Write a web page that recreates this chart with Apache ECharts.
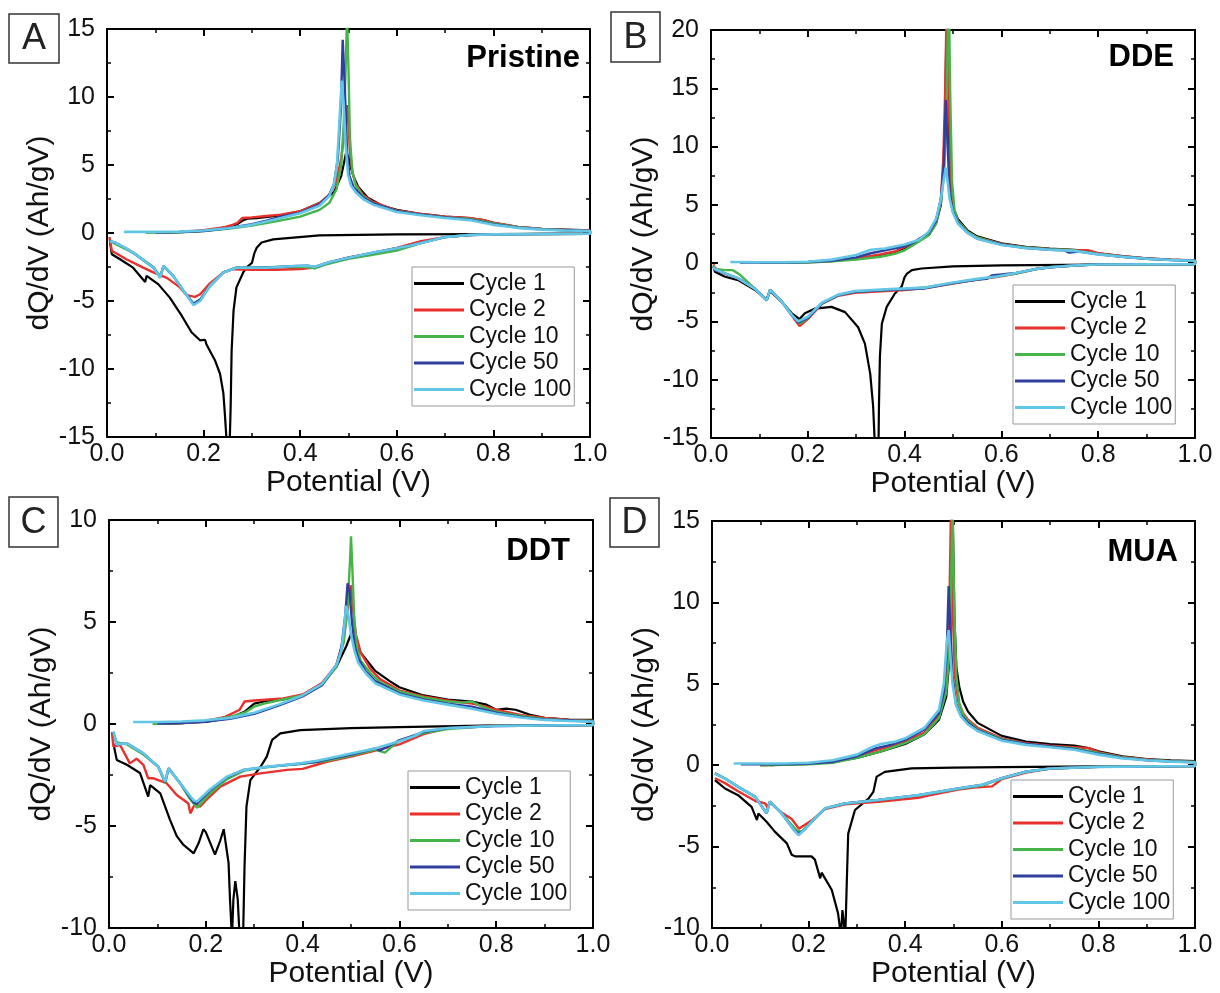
<!DOCTYPE html>
<html>
<head>
<meta charset="utf-8">
<script src="https://cdn.jsdelivr.net/npm/echarts@6/dist/echarts.min.js"></script>
<style>
html,body{margin:0;padding:0;background:#fff;}
#chart{width:1220px;height:993px;}
</style>
</head>
<body>
<div id="chart"></div>
<script>
// ---------------- DATA ----------------
const cycleNames = ['Cycle 1', 'Cycle 2', 'Cycle 10', 'Cycle 50', 'Cycle 100'];
const panelNames = ['Pristine', 'DDE', 'DDT', 'MUA'];
const panelLetters = ['A', 'B', 'C', 'D'];
const yMin = [-15, -15, -10, -10];
const yMax = [15, 20, 10, 15];
const xTickLabels = ['0.0', '0.2', '0.4', '0.6', '0.8', '1.0'];

// Panel A: Pristine  [potential V, dQ/dV]
const pristineCycle1 = [[0.12,0.02],[0.18,0.1],[0.22,0.25],[0.25,0.45],[0.27,0.65],[0.28,0.9],[0.29,1.05],[0.31,1.1],[0.35,1.25],[0.4,1.6],[0.44,2.2],[0.47,3.0],[0.485,4.2],[0.495,5.9],[0.5,5.6],[0.505,4.8],[0.51,4.2],[0.52,3.4],[0.54,2.6],[0.57,2.0],[0.6,1.7],[0.65,1.4],[0.7,1.2],[0.75,1.1],[0.78,0.95],[0.8,0.75],[0.85,0.45],[0.9,0.3],[0.95,0.25],[1.0,0.2],
  [1.0,-0.05],[0.8,-0.08],[0.6,-0.1],[0.44,-0.17],[0.344,-0.47],[0.32,-0.7],[0.31,-1.08],[0.305,-1.5],[0.3,-2.2],[0.29,-2.5],[0.282,-2.9],[0.268,-4.0],[0.262,-5.7],[0.258,-8.7],[0.256,-12.8],[0.254,-15.5],[0.248,-15.5],[0.244,-13.3],[0.241,-11.8],[0.234,-10.35],[0.224,-9.4],[0.206,-8.2],[0.203,-7.85],[0.193,-7.9],[0.175,-7.3],[0.155,-6.1],[0.13,-4.75],[0.106,-3.76],[0.082,-3.15],[0.079,-3.6],[0.054,-2.55],[0.027,-1.93],[0.01,-1.56],[0.006,-0.6]];
const pristineCycle2 = [[0.1,0.03],[0.15,0.08],[0.2,0.2],[0.24,0.4],[0.26,0.6],[0.27,0.75],[0.28,1.1],[0.3,1.15],[0.33,1.25],[0.36,1.35],[0.4,1.6],[0.44,2.2],[0.46,2.8],[0.475,3.8],[0.485,5.5],[0.492,7.5],[0.497,9.4],[0.5,8],[0.503,6],[0.508,4.5],[0.515,3.6],[0.53,2.8],[0.55,2.3],[0.6,1.65],[0.65,1.4],[0.7,1.2],[0.75,1.1],[0.78,0.95],[0.8,0.75],[0.85,0.45],[0.9,0.3],[0.95,0.22],[1.0,0.18],
  [1.0,-0.05],[0.85,-0.08],[0.75,-0.15],[0.7,-0.3],[0.65,-0.6],[0.6,-1.1],[0.55,-1.5],[0.5,-1.8],[0.45,-2.3],[0.43,-2.55],[0.4,-2.65],[0.35,-2.7],[0.3,-2.7],[0.261,-2.66],[0.241,-2.9],[0.213,-3.7],[0.193,-4.5],[0.182,-4.7],[0.165,-4.57],[0.151,-4.0],[0.124,-3.3],[0.096,-2.9],[0.075,-2.55],[0.04,-1.93],[0.01,-1.3],[0.005,-0.3]];
const pristineCycle10 = [[0.08,0.02],[0.15,0.06],[0.2,0.15],[0.25,0.3],[0.3,0.55],[0.35,0.85],[0.4,1.2],[0.44,1.7],[0.46,2.2],[0.475,3.2],[0.485,5],[0.49,8],[0.494,12],[0.497,16],[0.5,12],[0.503,7],[0.508,4.5],[0.515,3.5],[0.53,2.7],[0.55,2.2],[0.6,1.6],[0.65,1.35],[0.7,1.15],[0.75,1.05],[0.8,0.7],[0.85,0.42],[0.9,0.28],[0.95,0.2],[1.0,0.15],
  [1.0,-0.05],[0.8,-0.1],[0.75,-0.15],[0.7,-0.3],[0.65,-0.75],[0.6,-1.3],[0.55,-1.6],[0.5,-1.9],[0.45,-2.35],[0.43,-2.6],[0.41,-2.5],[0.35,-2.5],[0.3,-2.55],[0.268,-2.55],[0.241,-2.9],[0.213,-3.9],[0.193,-4.9],[0.179,-5.2],[0.161,-4.4],[0.137,-3.15],[0.117,-2.45],[0.11,-3.2],[0.096,-2.5],[0.06,-1.6],[0.04,-1.2],[0.017,-0.8],[0.006,-0.6]];
const pristineCycle50 = [[0.1,0.03],[0.15,0.07],[0.2,0.15],[0.25,0.35],[0.3,0.65],[0.33,0.9],[0.36,1.2],[0.4,1.5],[0.44,2.1],[0.46,2.8],[0.47,3.6],[0.478,5.5],[0.484,9],[0.488,14.2],[0.492,11],[0.497,6],[0.502,4.2],[0.51,3.4],[0.53,2.6],[0.55,2.2],[0.6,1.6],[0.65,1.35],[0.7,1.15],[0.75,1.0],[0.8,0.65],[0.85,0.4],[0.9,0.27],[0.95,0.2],[1.0,0.15],
  [1.0,-0.05],[0.8,-0.1],[0.75,-0.15],[0.7,-0.3],[0.665,-0.6],[0.624,-0.95],[0.55,-1.45],[0.503,-1.8],[0.46,-2.15],[0.43,-2.5],[0.415,-2.4],[0.38,-2.45],[0.33,-2.55],[0.268,-2.55],[0.241,-2.9],[0.213,-3.9],[0.193,-4.9],[0.179,-5.2],[0.161,-4.38],[0.137,-3.15],[0.117,-2.42],[0.11,-3.28],[0.096,-2.55],[0.054,-1.44],[0.037,-1.08],[0.017,-0.7],[0.006,-0.6]];
const pristineCycle100 = [[0.035,0.08],[0.1,0.08],[0.15,0.1],[0.2,0.18],[0.25,0.35],[0.3,0.6],[0.33,0.85],[0.36,1.1],[0.4,1.45],[0.44,2.0],[0.46,2.7],[0.47,3.6],[0.476,5],[0.481,8],[0.486,11.2],[0.49,9.5],[0.494,6.5],[0.499,4.3],[0.505,3.5],[0.515,3.0],[0.53,2.5],[0.55,2.1],[0.6,1.55],[0.65,1.3],[0.7,1.1],[0.75,0.95],[0.8,0.6],[0.85,0.38],[0.9,0.25],[0.95,0.18],[1.0,0.15],
  [1.0,-0.05],[0.8,-0.1],[0.75,-0.15],[0.7,-0.3],[0.665,-0.6],[0.624,-0.95],[0.55,-1.45],[0.503,-1.8],[0.46,-2.15],[0.43,-2.5],[0.415,-2.4],[0.38,-2.45],[0.33,-2.55],[0.268,-2.55],[0.241,-2.9],[0.213,-3.9],[0.193,-5.0],[0.179,-5.3],[0.161,-4.38],[0.137,-3.15],[0.117,-2.42],[0.11,-3.28],[0.096,-2.55],[0.054,-1.44],[0.037,-1.08],[0.017,-0.7],[0.006,-0.6]];

// Panel B: DDE
const ddeCycle1 = [[0.12,0.02],[0.2,0.1],[0.25,0.2],[0.3,0.4],[0.35,0.7],[0.38,0.95],[0.4,1.3],[0.42,1.7],[0.45,2.4],[0.465,3.4],[0.475,5],[0.48,8],[0.484,13],[0.487,22],[0.49,14],[0.494,7],[0.5,4.8],[0.51,3.8],[0.53,2.8],[0.55,2.3],[0.6,1.7],[0.65,1.4],[0.7,1.25],[0.75,1.15],[0.78,1.05],[0.8,0.85],[0.85,0.6],[0.9,0.42],[0.95,0.3],[1.0,0.25],
  [1.0,-0.1],[0.8,-0.12],[0.6,-0.2],[0.5,-0.28],[0.435,-0.46],[0.415,-0.6],[0.405,-0.9],[0.4,-1.2],[0.394,-2.0],[0.38,-2.6],[0.363,-3.75],[0.353,-5.2],[0.349,-8],[0.347,-12.3],[0.346,-16],[0.339,-16],[0.335,-12.3],[0.329,-9.5],[0.318,-6.9],[0.304,-5.5],[0.277,-4.2],[0.249,-3.75],[0.215,-3.9],[0.194,-4.3],[0.183,-4.8],[0.167,-4.3],[0.146,-3.3],[0.122,-2.4],[0.115,-3.1],[0.091,-2.3],[0.056,-1.46],[0.029,-1.17],[0.008,-0.74],[0.005,-0.3]];
const ddeCycle2 = [[0.1,0.02],[0.2,0.08],[0.25,0.18],[0.3,0.4],[0.35,0.75],[0.38,1.0],[0.4,1.4],[0.42,1.8],[0.45,2.6],[0.465,3.6],[0.475,5.5],[0.48,9],[0.484,15],[0.488,25],[0.491,15],[0.495,7],[0.5,4.6],[0.51,3.6],[0.53,2.7],[0.55,2.2],[0.6,1.65],[0.65,1.35],[0.7,1.2],[0.75,1.1],[0.78,1.1],[0.8,0.85],[0.85,0.6],[0.9,0.4],[0.95,0.3],[1.0,0.22],
  [1.0,-0.08],[0.8,-0.1],[0.75,-0.2],[0.7,-0.35],[0.672,-0.5],[0.63,-0.9],[0.59,-1.2],[0.55,-1.4],[0.494,-1.8],[0.45,-2.1],[0.4,-2.3],[0.36,-2.4],[0.297,-2.55],[0.263,-2.8],[0.229,-3.5],[0.2,-4.8],[0.183,-5.4],[0.167,-4.5],[0.146,-3.3],[0.122,-2.3],[0.115,-3.2],[0.091,-2.2],[0.056,-1.3],[0.029,-0.9],[0.008,-0.4],[0.005,-0.1]];
const ddeCycle10 = [[0.1,0.02],[0.2,0.06],[0.25,0.15],[0.3,0.3],[0.35,0.55],[0.38,0.8],[0.4,1.1],[0.42,1.6],[0.45,2.4],[0.465,3.4],[0.475,5.2],[0.482,8],[0.487,14],[0.491,25],[0.494,15],[0.498,7],[0.503,4.6],[0.51,3.6],[0.53,2.7],[0.55,2.2],[0.6,1.6],[0.65,1.35],[0.7,1.2],[0.75,1.1],[0.8,0.8],[0.85,0.55],[0.9,0.38],[0.95,0.28],[1.0,0.2],
  [1.0,-0.08],[0.8,-0.1],[0.75,-0.2],[0.7,-0.35],[0.672,-0.5],[0.63,-0.9],[0.59,-1.15],[0.55,-1.4],[0.494,-1.75],[0.45,-2.05],[0.4,-2.25],[0.36,-2.3],[0.297,-2.45],[0.263,-2.75],[0.229,-3.45],[0.2,-4.7],[0.183,-5.2],[0.167,-4.4],[0.146,-3.3],[0.122,-2.3],[0.115,-3.2],[0.091,-2.2],[0.06,-1.0],[0.045,-0.6],[0.03,-0.6],[0.008,-0.5],[0.005,-0.2]];
const ddeCycle50 = [[0.06,0.05],[0.15,0.06],[0.2,0.1],[0.25,0.2],[0.3,0.5],[0.33,0.85],[0.36,1.1],[0.4,1.45],[0.42,1.8],[0.45,2.6],[0.465,3.6],[0.475,5.5],[0.481,8.5],[0.485,14],[0.489,10],[0.493,6],[0.5,4.4],[0.51,3.5],[0.53,2.6],[0.55,2.1],[0.6,1.6],[0.65,1.3],[0.7,1.15],[0.73,1.1],[0.74,0.9],[0.76,1.0],[0.8,0.75],[0.85,0.55],[0.9,0.38],[0.95,0.27],[1.0,0.2],
  [1.0,-0.08],[0.8,-0.1],[0.75,-0.2],[0.7,-0.35],[0.672,-0.5],[0.63,-0.85],[0.58,-1.05],[0.57,-1.35],[0.55,-1.4],[0.494,-1.75],[0.442,-2.17],[0.36,-2.3],[0.297,-2.46],[0.263,-2.74],[0.229,-3.46],[0.2,-4.7],[0.18,-5.1],[0.167,-4.46],[0.146,-3.3],[0.122,-2.3],[0.115,-3.2],[0.091,-2.2],[0.056,-1.3],[0.03,-0.9],[0.008,-0.6],[0.005,-0.3]];
const ddeCycle100 = [[0.04,0.1],[0.1,0.08],[0.15,0.08],[0.2,0.12],[0.25,0.3],[0.3,0.7],[0.33,1.15],[0.36,1.25],[0.4,1.6],[0.43,2.0],[0.45,2.7],[0.465,3.8],[0.475,5.5],[0.481,7.2],[0.485,8.2],[0.489,7],[0.493,5.5],[0.5,4.3],[0.51,3.4],[0.53,2.6],[0.55,2.1],[0.6,1.55],[0.65,1.3],[0.7,1.15],[0.75,1.05],[0.8,0.75],[0.85,0.55],[0.9,0.38],[0.95,0.27],[1.0,0.2],
  [1.0,-0.08],[0.8,-0.12],[0.75,-0.2],[0.7,-0.35],[0.672,-0.5],[0.63,-0.85],[0.59,-1.15],[0.55,-1.35],[0.494,-1.7],[0.442,-2.1],[0.36,-2.25],[0.297,-2.4],[0.263,-2.7],[0.229,-3.4],[0.2,-4.6],[0.18,-5.0],[0.167,-4.46],[0.146,-3.3],[0.122,-2.3],[0.115,-3.2],[0.091,-2.2],[0.056,-1.3],[0.03,-0.9],[0.008,-0.5],[0.005,-0.3]];

// Panel C: DDT
const ddtCycle1 = [[0.12,0.0],[0.2,0.1],[0.25,0.3],[0.28,0.6],[0.3,1.0],[0.33,1.15],[0.36,1.2],[0.4,1.4],[0.44,2.0],[0.47,2.8],[0.49,3.8],[0.5,4.4],[0.505,4.0],[0.51,3.8],[0.52,3.5],[0.53,3.2],[0.55,2.6],[0.58,2.1],[0.6,1.8],[0.65,1.4],[0.7,1.2],[0.75,1.1],[0.78,0.95],[0.8,0.7],[0.82,0.75],[0.84,0.7],[0.87,0.45],[0.9,0.3],[0.95,0.22],[1.0,0.2],
  [1.0,-0.05],[0.8,-0.07],[0.6,-0.15],[0.5,-0.2],[0.395,-0.3],[0.354,-0.46],[0.337,-0.78],[0.326,-1.6],[0.313,-2.1],[0.292,-2.75],[0.284,-4.05],[0.28,-7.0],[0.277,-10.5],[0.27,-10.5],[0.266,-8.6],[0.261,-7.7],[0.257,-8.6],[0.254,-10.5],[0.25,-8.6],[0.247,-6.8],[0.237,-5.16],[0.23,-5.7],[0.219,-6.4],[0.2,-5.3],[0.195,-5.16],[0.185,-5.85],[0.175,-6.34],[0.154,-5.93],[0.14,-5.5],[0.126,-4.7],[0.106,-3.4],[0.085,-3.0],[0.081,-3.56],[0.064,-2.4],[0.037,-2.0],[0.016,-1.76],[0.009,-0.95]];
const ddtCycle2 = [[0.1,0.02],[0.15,0.05],[0.2,0.15],[0.24,0.35],[0.27,0.7],[0.28,1.1],[0.3,1.15],[0.33,1.2],[0.36,1.25],[0.4,1.45],[0.44,2.0],[0.47,2.9],[0.485,4.2],[0.495,6.0],[0.5,6.8],[0.505,5.5],[0.51,4.4],[0.52,3.5],[0.54,2.7],[0.56,2.2],[0.6,1.65],[0.65,1.35],[0.7,1.15],[0.75,1.0],[0.77,0.9],[0.8,0.7],[0.85,0.45],[0.9,0.3],[0.95,0.2],[1.0,0.15],
  [1.0,-0.05],[0.8,-0.07],[0.7,-0.2],[0.65,-0.5],[0.6,-1.0],[0.55,-1.3],[0.5,-1.6],[0.45,-1.85],[0.4,-2.2],[0.368,-2.25],[0.313,-2.42],[0.271,-2.58],[0.23,-3.07],[0.202,-3.7],[0.188,-4.05],[0.178,-3.9],[0.168,-4.38],[0.164,-3.9],[0.14,-3.48],[0.119,-2.9],[0.092,-2.66],[0.081,-2.66],[0.071,-2.0],[0.057,-1.7],[0.043,-1.93],[0.023,-1.03],[0.009,-1.1],[0.006,-0.4]];
const ddtCycle10 = [[0.09,0.0],[0.15,0.05],[0.2,0.15],[0.25,0.35],[0.28,0.55],[0.3,0.85],[0.32,1.0],[0.35,1.15],[0.4,1.4],[0.44,1.9],[0.47,2.8],[0.485,4.0],[0.493,5.8],[0.498,8.0],[0.5,9.2],[0.503,7.5],[0.507,5.0],[0.512,3.8],[0.52,3.1],[0.54,2.5],[0.56,2.05],[0.6,1.6],[0.65,1.3],[0.7,1.1],[0.73,1.05],[0.75,1.1],[0.77,0.85],[0.8,0.6],[0.85,0.4],[0.9,0.25],[0.95,0.18],[1.0,0.15],
  [1.0,-0.05],[0.8,-0.08],[0.7,-0.25],[0.65,-0.45],[0.6,-0.8],[0.57,-1.4],[0.55,-1.25],[0.5,-1.55],[0.45,-1.8],[0.4,-1.95],[0.35,-2.05],[0.3,-2.2],[0.278,-2.3],[0.244,-2.7],[0.209,-3.4],[0.19,-3.9],[0.182,-4.1],[0.165,-3.6],[0.147,-2.9],[0.123,-2.17],[0.116,-2.9],[0.102,-2.1],[0.071,-1.5],[0.037,-1.0],[0.016,-0.9],[0.009,-0.5]];
const ddtCycle50 = [[0.1,0.02],[0.15,0.05],[0.2,0.12],[0.25,0.25],[0.3,0.5],[0.35,0.9],[0.4,1.35],[0.44,1.9],[0.47,2.9],[0.48,3.7],[0.488,5.3],[0.493,6.9],[0.497,6.5],[0.502,5.0],[0.508,3.8],[0.515,3.2],[0.53,2.6],[0.55,2.1],[0.6,1.5],[0.65,1.2],[0.7,1.0],[0.75,0.85],[0.8,0.55],[0.85,0.35],[0.9,0.22],[0.95,0.17],[1.0,0.12],
  [1.0,-0.05],[0.8,-0.1],[0.7,-0.2],[0.65,-0.4],[0.6,-0.8],[0.56,-1.3],[0.55,-1.2],[0.5,-1.5],[0.45,-1.75],[0.43,-1.85],[0.395,-1.95],[0.326,-2.1],[0.278,-2.25],[0.244,-2.6],[0.209,-3.25],[0.182,-3.9],[0.175,-3.85],[0.147,-2.9],[0.123,-2.17],[0.116,-2.85],[0.102,-2.1],[0.071,-1.44],[0.037,-0.95],[0.016,-1.0],[0.009,-0.38]];
const ddtCycle100 = [[0.05,0.1],[0.1,0.1],[0.15,0.12],[0.2,0.18],[0.25,0.3],[0.3,0.55],[0.35,0.95],[0.4,1.4],[0.44,1.95],[0.47,2.9],[0.48,3.6],[0.486,4.8],[0.49,5.8],[0.494,5.4],[0.5,4.4],[0.507,3.6],[0.515,3.0],[0.53,2.5],[0.55,2.0],[0.6,1.45],[0.65,1.15],[0.7,0.95],[0.75,0.75],[0.8,0.5],[0.85,0.32],[0.9,0.2],[0.95,0.15],[1.0,0.12],
  [1.0,-0.05],[0.8,-0.1],[0.7,-0.2],[0.65,-0.35],[0.63,-0.6],[0.6,-0.85],[0.55,-1.2],[0.5,-1.45],[0.45,-1.7],[0.43,-1.8],[0.395,-1.93],[0.326,-2.1],[0.278,-2.25],[0.244,-2.58],[0.209,-3.2],[0.182,-3.8],[0.175,-3.75],[0.147,-2.9],[0.123,-2.17],[0.116,-2.83],[0.102,-2.1],[0.071,-1.44],[0.037,-0.95],[0.016,-1.0],[0.009,-0.38]];

// Panel D: MUA
const muaCycle1 = [[0.12,0.0],[0.2,0.08],[0.25,0.2],[0.3,0.45],[0.35,0.85],[0.4,1.3],[0.44,1.9],[0.47,2.8],[0.485,4.2],[0.493,7],[0.498,16],[0.502,9],[0.506,6],[0.512,4.8],[0.52,3.9],[0.53,3.3],[0.55,2.6],[0.6,1.8],[0.65,1.45],[0.7,1.3],[0.75,1.2],[0.78,1.05],[0.8,0.85],[0.85,0.55],[0.9,0.38],[0.95,0.3],[1.0,0.25],
  [1.0,-0.05],[0.8,-0.07],[0.6,-0.12],[0.5,-0.15],[0.413,-0.2],[0.358,-0.41],[0.341,-0.7],[0.334,-1.64],[0.324,-2.05],[0.296,-2.75],[0.282,-4.2],[0.279,-7.25],[0.276,-10.5],[0.272,-10.5],[0.27,-8.9],[0.267,-10.5],[0.263,-10.5],[0.261,-9.1],[0.248,-7.67],[0.227,-6.6],[0.224,-6.95],[0.213,-5.8],[0.206,-5.6],[0.172,-5.6],[0.165,-5.5],[0.155,-4.8],[0.151,-4.9],[0.13,-4.08],[0.113,-3.47],[0.096,-2.97],[0.093,-3.37],[0.082,-2.56],[0.054,-1.84],[0.027,-1.43],[0.006,-0.92]];
const muaCycle2 = [[0.1,0.0],[0.2,0.08],[0.25,0.2],[0.3,0.55],[0.33,0.85],[0.36,1.1],[0.4,1.45],[0.44,2.0],[0.47,3.0],[0.483,4.5],[0.49,7],[0.495,16],[0.499,9],[0.503,5.5],[0.51,3.9],[0.52,3.2],[0.53,2.8],[0.55,2.3],[0.6,1.65],[0.65,1.35],[0.7,1.2],[0.75,1.1],[0.78,1.05],[0.8,0.8],[0.85,0.5],[0.9,0.35],[0.95,0.25],[1.0,0.2],
  [1.0,-0.05],[0.8,-0.1],[0.7,-0.2],[0.65,-0.45],[0.6,-0.85],[0.58,-1.3],[0.55,-1.35],[0.51,-1.5],[0.45,-1.85],[0.427,-2.0],[0.344,-2.25],[0.275,-2.4],[0.234,-2.7],[0.206,-3.4],[0.19,-3.7],[0.18,-3.9],[0.165,-3.3],[0.144,-2.9],[0.12,-2.3],[0.115,-2.6],[0.11,-2.35],[0.09,-2.2],[0.054,-1.6],[0.027,-1.1],[0.006,-0.8]];
const muaCycle10 = [[0.1,0.0],[0.2,0.06],[0.25,0.15],[0.3,0.45],[0.35,0.85],[0.4,1.35],[0.44,1.9],[0.47,2.9],[0.485,4.5],[0.493,7.5],[0.498,16],[0.502,9],[0.506,5.5],[0.512,3.8],[0.52,3.1],[0.53,2.7],[0.55,2.2],[0.6,1.6],[0.65,1.3],[0.7,1.15],[0.75,1.05],[0.8,0.75],[0.85,0.48],[0.9,0.33],[0.95,0.24],[1.0,0.2],
  [1.0,-0.05],[0.8,-0.1],[0.7,-0.2],[0.65,-0.4],[0.6,-0.8],[0.56,-1.25],[0.51,-1.45],[0.427,-1.85],[0.344,-2.14],[0.275,-2.35],[0.234,-2.65],[0.206,-3.48],[0.185,-4.1],[0.175,-4.0],[0.144,-2.95],[0.12,-2.24],[0.113,-2.95],[0.089,-1.93],[0.054,-1.32],[0.027,-0.82],[0.006,-0.5]];
const muaCycle50 = [[0.06,0.05],[0.15,0.05],[0.2,0.1],[0.25,0.2],[0.3,0.55],[0.34,1.05],[0.37,1.25],[0.4,1.55],[0.44,2.2],[0.47,3.2],[0.48,4.5],[0.486,7],[0.49,11],[0.494,8],[0.498,5.5],[0.505,3.8],[0.515,3.1],[0.53,2.6],[0.55,2.15],[0.6,1.55],[0.65,1.3],[0.7,1.15],[0.75,1.0],[0.8,0.7],[0.85,0.45],[0.9,0.3],[0.95,0.22],[1.0,0.18],
  [1.0,-0.05],[0.8,-0.1],[0.7,-0.2],[0.65,-0.4],[0.6,-0.8],[0.56,-1.2],[0.51,-1.43],[0.427,-1.84],[0.344,-2.14],[0.275,-2.35],[0.234,-2.65],[0.206,-3.48],[0.19,-4.0],[0.179,-4.2],[0.17,-4.0],[0.144,-2.95],[0.12,-2.24],[0.113,-2.95],[0.089,-1.93],[0.054,-1.32],[0.027,-0.82],[0.006,-0.5]];
const muaCycle100 = [[0.045,0.1],[0.1,0.1],[0.15,0.1],[0.2,0.15],[0.25,0.3],[0.3,0.65],[0.33,1.1],[0.35,1.3],[0.38,1.45],[0.4,1.65],[0.44,2.3],[0.47,3.4],[0.48,5],[0.486,7.5],[0.49,8.3],[0.494,6.5],[0.498,5],[0.505,3.7],[0.515,3.0],[0.53,2.5],[0.55,2.1],[0.6,1.5],[0.65,1.25],[0.7,1.1],[0.75,0.95],[0.8,0.65],[0.85,0.42],[0.9,0.3],[0.95,0.22],[1.0,0.18],
  [1.0,-0.05],[0.8,-0.1],[0.7,-0.2],[0.65,-0.4],[0.6,-0.8],[0.56,-1.2],[0.51,-1.43],[0.427,-1.84],[0.344,-2.14],[0.275,-2.35],[0.234,-2.65],[0.206,-3.48],[0.19,-4.0],[0.179,-4.3],[0.17,-4.0],[0.144,-2.95],[0.12,-2.24],[0.113,-2.95],[0.089,-1.93],[0.054,-1.32],[0.027,-0.82],[0.006,-0.5]];

const panelData = [
  [pristineCycle1, pristineCycle2, pristineCycle10, pristineCycle50, pristineCycle100],
  [ddeCycle1, ddeCycle2, ddeCycle10, ddeCycle50, ddeCycle100],
  [ddtCycle1, ddtCycle2, ddtCycle10, ddtCycle50, ddtCycle100],
  [muaCycle1, muaCycle2, muaCycle10, muaCycle50, muaCycle100]
];

// ---------------- STYLE / LAYOUT ----------------
const colors = ['#000000', '#e8312c', '#46b549', '#2e3f9e', '#62c6e6'];
const lineWidths = [2.2, 2.4, 2.4, 2.4, 2.6];
const FONT = '"Liberation Sans", Arial, sans-serif';
const grids = [
  { left: 107, top: 29, width: 483, height: 408 },
  { left: 711, top: 30, width: 484, height: 408 },
  { left: 109, top: 520, width: 484, height: 408 },
  { left: 712, top: 521, width: 483, height: 407 }
];
const legendPos = [
  { left: 412, top: 267 },
  { left: 1013, top: 285 },
  { left: 408, top: 771 },
  { left: 1011, top: 780 }
];
const titlePos = [[580, 58], [1174, 57], [570, 551], [1178, 552]];
const boxPos = [[9, 14, 50, 49], [611, 12, 49, 50], [9, 497, 49, 50], [610, 498, 49, 49]];

const tickCommon = {
  axisLine: { show: true, onZero: false, lineStyle: { color: '#000', width: 2 } },
  axisTick: { show: true, inside: true, length: 7, lineStyle: { color: '#000', width: 2 } },
  minorTick: { show: true, splitNumber: 2, length: 4, lineStyle: { color: '#000', width: 1.5 } },
  splitLine: { show: false },
  minorSplitLine: { show: false }
};

const xAxes = [], yAxes = [], series = [], legends = [], graphics = [];
for (let p = 0; p < 4; p++) {
  xAxes.push(Object.assign({}, tickCommon, {
    type: 'value', gridIndex: p, min: 0, max: 1, interval: 0.2, position: 'bottom',
    name: 'Potential (V)', nameLocation: 'middle', nameGap: 25,
    nameTextStyle: { fontSize: 30, fontFamily: FONT, color: '#111' },
    axisLabel: { show: true, margin: 5, fontSize: 25, fontFamily: FONT, color: '#111',
      formatter: v => xTickLabels[Math.round(v * 5)] }
  }));
  xAxes.push(Object.assign({}, tickCommon, {
    type: 'value', gridIndex: p, min: 0, max: 1, interval: 0.2, position: 'top',
    axisLabel: { show: false }
  }));
  yAxes.push(Object.assign({}, tickCommon, {
    type: 'value', gridIndex: p, min: yMin[p], max: yMax[p], interval: 5, position: 'left',
    name: 'dQ/dV (Ah/gV)', nameLocation: 'middle', nameGap: 41,
    nameTextStyle: { fontSize: 30, fontFamily: FONT, color: '#111' },
    axisLabel: { show: true, margin: 12, fontSize: 25, fontFamily: FONT, color: '#111' }
  }));
  yAxes.push(Object.assign({}, tickCommon, {
    type: 'value', gridIndex: p, min: yMin[p], max: yMax[p], interval: 5, position: 'right',
    axisLabel: { show: false }
  }));

  for (let c = 0; c < 5; c++) {
    series.push({
      type: 'line', name: cycleNames[c], xAxisIndex: 2 * p, yAxisIndex: 2 * p,
      data: panelData[p][c], showSymbol: false, symbol: 'none', clip: true,
      lineStyle: { color: colors[c], width: lineWidths[c] }, itemStyle: { color: colors[c] },
      z: 2 + c, animation: false
    });
  }

  legends.push({
    data: cycleNames, orient: 'vertical', left: legendPos[p].left, top: legendPos[p].top,
    icon: 'rect', itemWidth: 50, itemHeight: 3, itemGap: 3.5,
    padding: [5, 3, 5, 2], borderColor: '#999', borderWidth: 1, backgroundColor: '#fff',
    textStyle: { fontSize: 23, lineHeight: 23, fontFamily: FONT, color: '#111' },
    selectedMode: false
  });

  graphics.push({
    type: 'text', x: titlePos[p][0], y: titlePos[p][1], z: 100,
    style: { text: panelNames[p], font: 'bold 31px ' + FONT, fill: '#000', align: 'right', verticalAlign: 'middle' }
  });
  const b = boxPos[p];
  graphics.push({
    type: 'rect', shape: { x: b[0], y: b[1], width: b[2], height: b[3] }, z: 100,
    style: { fill: 'none', stroke: '#333', lineWidth: 1.5 }
  });
  graphics.push({
    type: 'text', x: b[0] + b[2] / 2, y: b[1] + b[3] / 2 + 1, z: 100,
    style: { text: panelLetters[p], font: '36px ' + FONT, fill: '#222', align: 'center', verticalAlign: 'middle' }
  });
}

const chart = echarts.init(document.getElementById('chart'), null, { renderer: 'canvas' });
chart.setOption({
  backgroundColor: '#ffffff',
  animation: false,
  grid: grids,
  xAxis: xAxes,
  yAxis: yAxes,
  legend: legends,
  series: series,
  graphic: graphics
});
</script>
</body>
</html>
